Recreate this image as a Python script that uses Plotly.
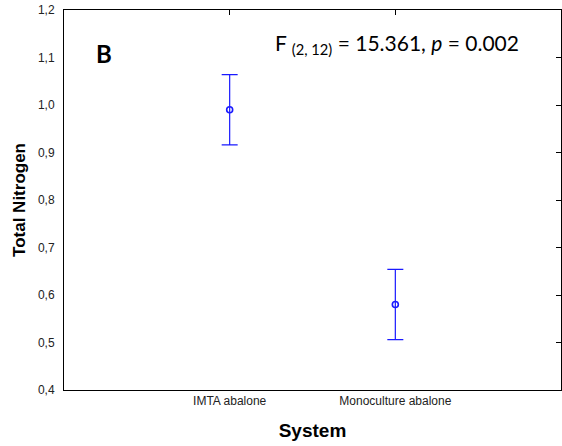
import plotly.graph_objects as go

categories = ["IMTA abalone", "Monoculture abalone"]
means = [0.99, 0.58]
errors = [0.074, 0.074]
y_ticks = [0.4, 0.5, 0.6, 0.7, 0.8, 0.9, 1.0, 1.1, 1.2]

x_pos = [1, 2]

fig = go.Figure()
fig.add_trace(go.Scatter(
    x=x_pos, y=means, mode="markers",
    marker=dict(symbol="circle-open", size=6, color="#1a1aff", line=dict(width=1.6, color="#1a1aff")),
    error_y=dict(type="data", array=errors, visible=True, color="#1a1aff", thickness=1.2, width=8),
    showlegend=False,
))

fig.update_layout(
    width=562, height=446,
    margin=dict(l=64, r=1, t=10, b=56),
    paper_bgcolor="white", plot_bgcolor="white",
    separators=", ",
    xaxis=dict(range=[0, 3], tickvals=x_pos, ticktext=categories, showline=True, linecolor="black",
               linewidth=1, ticks="", showgrid=False, zeroline=False,
               tickfont=dict(family="Liberation Sans, Arial", size=12, color="#222"),
               title=dict(text="<b>System</b>", font=dict(family="Liberation Sans, Arial", size=19, color="black"), standoff=16)),
    yaxis=dict(range=[0.4, 1.2], tickvals=y_ticks, tickformat=".1f", showline=True, linecolor="black",
               linewidth=1, ticks="", showgrid=False, zeroline=False, ticklabelstandoff=6,
               tickfont=dict(family="Liberation Sans, Arial", size=12, color="#222"),
               title=dict(text="<b>Total Nitrogen</b>", font=dict(family="Liberation Sans, Arial", size=17, color="black"), standoff=7)),
    xaxis2=dict(overlaying="x", side="top", range=[0, 3], tickvals=x_pos, showticklabels=False,
                ticks="inside", ticklen=5, tickcolor="black", showline=True, linecolor="black", showgrid=False, zeroline=False),
    yaxis2=dict(overlaying="y", side="right", range=[0.4, 1.2], tickvals=y_ticks, showticklabels=False,
                ticks="inside", ticklen=5, tickcolor="black", showline=True, linecolor="black", showgrid=False, zeroline=False),
)
fig.add_trace(go.Scatter(x=[None], y=[None], xaxis="x2", yaxis="y2", showlegend=False, hoverinfo="skip"))

fig.add_annotation(text="<b>B</b>", xref="paper", yref="paper", x=0.06, y=0.885, xanchor="left", yanchor="middle",
                   showarrow=False, font=dict(family="Lato, Open Sans", size=24, color="black"))
fig.add_annotation(text="F <sub>(2, 12)</sub> = 15.361, <i>p</i> = 0.002", xref="paper", yref="paper",
                   x=0.42, y=0.91, xanchor="left", yanchor="middle",
                   showarrow=False, font=dict(family="Lato, Open Sans", size=21, color="black"))

fig.write_html("out.html")
